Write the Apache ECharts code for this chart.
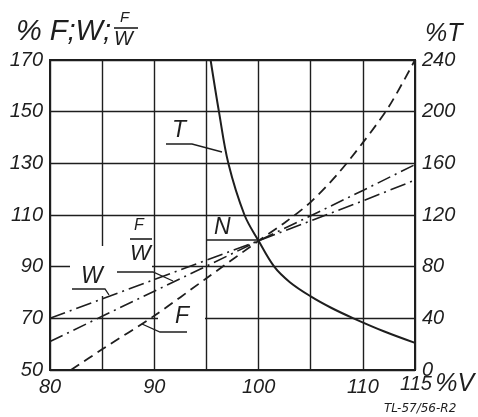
<!DOCTYPE html>
<html>
<head>
<meta charset="utf-8">
<script src="https://cdn.jsdelivr.net/npm/echarts@6/dist/echarts.min.js"></script>
<style>
html,body{margin:0;padding:0;background:#fff;}
#c{width:478px;height:417px;}
</style>
</head>
<body>
<div id="c"></div>
<script>
// ---- data ----
const xTickLabels = [80, 90, 100, 110];
const fX = [82, 85, 90, 95, 100, 102.5, 105, 107.5, 110, 112.5, 115];
const fY = [50, 58, 71, 85.5, 100, 107, 115, 125.5, 138, 152, 170];
const wX = [80, 85, 90, 95, 100, 105, 110, 115];
const wY = [70, 77.5, 85, 92.5, 100, 107.7, 115.5, 123.5];
const fwX = [80, 85, 90, 95, 100, 105, 110, 115];
const fwY = [61, 70.8, 80.5, 90.2, 100, 109.7, 119.5, 129.5];
const tX = [95.4, 96.2, 97.1, 98.65, 100, 101.5, 103, 105, 107, 109.1, 112, 115];
const tY = [240, 200, 160, 120, 100, 80, 68, 57, 48, 40, 30, 21];

const pairs = (xs, ys) => xs.map((x, i) => [x, ys[i]]);
const INK = '#1e1e1e';
const FONT = '"Liberation Sans", Arial, sans-serif';

const chart = echarts.init(document.getElementById('c'), null, {renderer: 'canvas'});

function txt(text, x, y, size, extra, fam) {
  return Object.assign({
    type: 'text', left: x, top: y, z: 5,
    style: {text: text, fill: INK, font: 'italic ' + size + 'px ' + (fam || FONT)}
  }, extra || {});
}
function pl(points, w) {
  return {type: 'polyline', z: 5, shape: {points: points},
          style: {stroke: INK, lineWidth: w || 1.3, fill: null}};
}
function blank(x, y, w, h) {
  return {type: 'rect', z: 1, shape: {x: x, y: y, width: w, height: h},
          style: {fill: '#fff'}};
}

const option = {
  backgroundColor: '#fff',
  animation: false,
  grid: {left: 50, right: 63, top: 60, bottom: 47, show: true,
         borderColor: INK, borderWidth: 2, backgroundColor: 'transparent'},
  xAxis: {
    type: 'value', min: 80, max: 115, interval: 5,
    axisLine: {show: true, lineStyle: {color: INK, width: 2}},
    axisTick: {show: false},
    splitLine: {show: true, lineStyle: {color: INK, width: 1.4}},
    axisLabel: {
      margin: 7, color: INK, fontSize: 20, fontStyle: 'italic', fontFamily: FONT,
      formatter: v => xTickLabels.indexOf(v) >= 0 ? String(v) : ''
    }
  },
  yAxis: [
    {
      type: 'value', min: 50, max: 170, interval: 20, position: 'left',
      axisLine: {show: true, lineStyle: {color: INK, width: 2}},
      axisTick: {show: false},
      splitLine: {show: true, lineStyle: {color: INK, width: 1.4}},
      axisLabel: {margin: 7, color: INK, fontSize: 20, fontStyle: 'italic', fontFamily: FONT}
    },
    {
      type: 'value', min: 0, max: 240, interval: 40, position: 'right',
      axisLine: {show: true, lineStyle: {color: INK, width: 2}},
      axisTick: {show: false},
      splitLine: {show: false},
      axisLabel: {margin: 7, color: INK, fontSize: 20, fontStyle: 'italic', fontFamily: FONT}
    }
  ],
  series: [
    {name: 'F', type: 'line', yAxisIndex: 0, data: pairs(fX, fY), showSymbol: false,
     smooth: 0.3, lineStyle: {color: INK, width: 1.8, type: [10, 6]}, z: 3},
    {name: 'W', type: 'line', yAxisIndex: 0, data: pairs(wX, wY), showSymbol: false,
     lineStyle: {color: INK, width: 1.6, type: [16, 5, 2, 5]}, z: 3},
    {name: 'F/W', type: 'line', yAxisIndex: 0, data: pairs(fwX, fwY), showSymbol: false,
     lineStyle: {color: INK, width: 1.6, type: [14, 5, 2, 5]}, z: 3},
    {name: 'T', type: 'line', yAxisIndex: 1, data: pairs(tX, tY), showSymbol: false,
     smooth: 0.35, lineStyle: {color: INK, width: 2}, z: 3}
  ],
  graphic: [
    // gaps in grid behind labels
    blank(70, 246, 44, 50),
    blank(114, 218, 38, 52),
    blank(158, 300, 47, 32),
    // titles
    txt('% F;W;', 16, 17, 29),
    txt('F', 120, 10, 15),
    pl([[114, 28], [138, 28]], 1.6),
    txt('W', 114, 29, 20),
    txt('%T', 425, 22, 25),
    // curve labels with leaders
    txt('T', 172, 119, 23),
    pl([[166, 144], [192, 144], [222, 152]]),
    txt('N', 214, 216, 23),
    pl([[207, 240], [258, 240]]),
    txt('F', 134, 218, 16),
    pl([[130, 239], [152, 239]], 1.6),
    txt('W', 130, 243, 22),
    pl([[117, 272], [153, 272], [173, 281]]),
    txt('W', 81, 265, 23),
    pl([[72, 289], [105, 289], [109, 295]]),
    txt('F', 175, 305, 23),
    pl([[187, 332], [160, 332], [142, 324]]),
    // x end label and footer
    {type: 'text', left: 400, top: 372, z: 5,
     style: {text: '{a|115} {b|%V}', fill: INK,
             rich: {a: {font: 'italic 20px ' + FONT, fill: INK},
                    b: {font: 'italic 25px ' + FONT, fill: INK}}}},
    txt('TL-57/56-R2', 384, 403, 12, null, '"DejaVu Sans", sans-serif')
  ]
};
chart.setOption(option);
</script>
</body>
</html>
